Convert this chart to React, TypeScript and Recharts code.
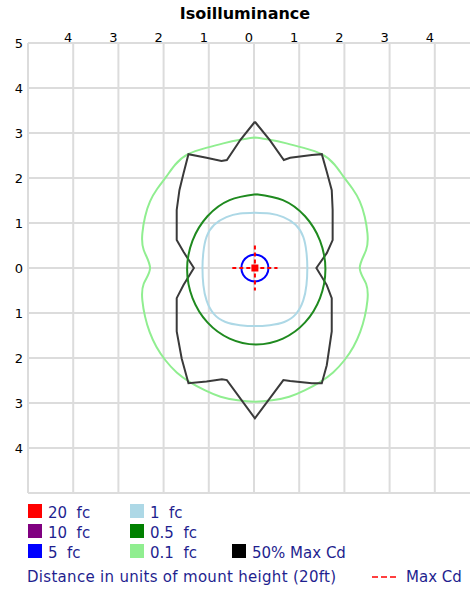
import React from 'react';
import { ComposedChart, Line, XAxis, YAxis, CartesianGrid } from 'recharts';

// axis ticks (units of mount height)
const axisTicks = [-5, -4, -3, -2, -1, 0, 1, 2, 3, 4, 5];

// 0.1 fc contour
const fc01 = [
  { x: 0.02, y: 2.9 }, { x: 0.35, y: 2.85 }, { x: 0.72, y: 2.77 }, { x: 1.1, y: 2.67 },
  { x: 1.5, y: 2.53 }, { x: 1.78, y: 2.3 }, { x: 1.98, y: 2.03 }, { x: 2.18, y: 1.76 },
  { x: 2.34, y: 1.48 }, { x: 2.45, y: 1.14 }, { x: 2.51, y: 0.77 }, { x: 2.48, y: 0.4 },
  { x: 2.34, y: 0 }, { x: 2.48, y: -0.35 }, { x: 2.51, y: -0.72 }, { x: 2.45, y: -1.08 },
  { x: 2.35, y: -1.42 }, { x: 2.2, y: -1.75 }, { x: 2.0, y: -2.05 }, { x: 1.75, y: -2.32 },
  { x: 1.45, y: -2.54 }, { x: 1.12, y: -2.72 }, { x: 0.78, y: -2.86 }, { x: 0.4, y: -2.94 },
  { x: 0.02, y: -2.97 }, { x: -0.36, y: -2.94 }, { x: -0.74, y: -2.86 }, { x: -1.08, y: -2.72 },
  { x: -1.41, y: -2.54 }, { x: -1.71, y: -2.32 }, { x: -1.96, y: -2.05 }, { x: -2.16, y: -1.75 },
  { x: -2.31, y: -1.42 }, { x: -2.41, y: -1.08 }, { x: -2.47, y: -0.72 }, { x: -2.44, y: -0.35 },
  { x: -2.3, y: 0 }, { x: -2.44, y: 0.4 }, { x: -2.47, y: 0.77 }, { x: -2.41, y: 1.14 },
  { x: -2.3, y: 1.48 }, { x: -2.14, y: 1.76 }, { x: -1.94, y: 2.03 }, { x: -1.74, y: 2.3 },
  { x: -1.46, y: 2.53 }, { x: -1.06, y: 2.67 }, { x: -0.68, y: 2.77 }, { x: -0.31, y: 2.85 },
  { x: 0.02, y: 2.9 },
];

// 50% max candela outline
const halfMaxCd = [
  { x: 0.02, y: 3.25 }, { x: 0.35, y: 2.84 }, { x: 0.66, y: 2.4 }, { x: 0.8, y: 2.45 },
  { x: 1.28, y: 2.51 }, { x: 1.5, y: 2.53 }, { x: 1.61, y: 2.14 }, { x: 1.72, y: 1.73 },
  { x: 1.74, y: 1.29 }, { x: 1.74, y: 0.62 }, { x: 1.61, y: 0.33 }, { x: 1.38, y: 0 },
  { x: 1.61, y: -0.38 }, { x: 1.72, y: -0.67 }, { x: 1.72, y: -1.41 }, { x: 1.61, y: -2.16 },
  { x: 1.5, y: -2.56 }, { x: 1.28, y: -2.56 }, { x: 0.8, y: -2.51 }, { x: 0.65, y: -2.49 },
  { x: 0.02, y: -3.34 }, { x: -0.6, y: -2.49 }, { x: -0.71, y: -2.47 }, { x: -1.05, y: -2.52 },
  { x: -1.45, y: -2.56 }, { x: -1.6, y: -2.01 }, { x: -1.71, y: -1.41 }, { x: -1.71, y: -0.67 },
  { x: -1.56, y: -0.38 }, { x: -1.33, y: 0 }, { x: -1.56, y: 0.36 }, { x: -1.71, y: 0.62 },
  { x: -1.71, y: 1.29 }, { x: -1.65, y: 1.73 }, { x: -1.56, y: 2.1 }, { x: -1.45, y: 2.53 },
  { x: -1.05, y: 2.45 }, { x: -0.72, y: 2.38 }, { x: -0.6, y: 2.4 }, { x: -0.3, y: 2.85 },
  { x: 0.02, y: 3.25 },
];

// 0.5 fc contour
const fc05 = [
  { x: 0.05, y: 1.64 }, { x: 0.64, y: 1.51 }, { x: 1.13, y: 1.15 }, { x: 1.46, y: 0.61 },
  { x: 1.58, y: -0.03 }, { x: 1.46, y: -0.67 }, { x: 1.13, y: -1.21 }, { x: 0.64, y: -1.57 },
  { x: 0.05, y: -1.7 }, { x: -0.54, y: -1.57 }, { x: -1.03, y: -1.21 }, { x: -1.36, y: -0.67 },
  { x: -1.48, y: -0.03 }, { x: -1.36, y: 0.61 }, { x: -1.03, y: 1.15 }, { x: -0.54, y: 1.51 },
  { x: 0.05, y: 1.64 },
];

// 1 fc contour
const fc1 = [
  { x: 0.02, y: 1.23 }, { x: 0.35, y: 1.21 }, { x: 0.65, y: 1.13 }, { x: 0.92, y: 0.96 },
  { x: 1.09, y: 0.69 }, { x: 1.16, y: 0.35 }, { x: 1.18, y: 0 }, { x: 1.16, y: -0.38 },
  { x: 1.09, y: -0.72 }, { x: 0.93, y: -1.02 }, { x: 0.67, y: -1.2 }, { x: 0.35, y: -1.27 },
  { x: 0.02, y: -1.29 }, { x: -0.31, y: -1.27 }, { x: -0.63, y: -1.2 }, { x: -0.89, y: -1.02 },
  { x: -1.05, y: -0.72 }, { x: -1.12, y: -0.38 }, { x: -1.14, y: 0 }, { x: -1.12, y: 0.35 },
  { x: -1.05, y: 0.69 }, { x: -0.88, y: 0.96 }, { x: -0.61, y: 1.13 }, { x: -0.31, y: 1.21 },
  { x: 0.02, y: 1.23 },
];

// 5 fc contour
const fc5 = [
  { x: 0.02, y: 0.3 }, { x: 0.17, y: 0.26 }, { x: 0.28, y: 0.15 }, { x: 0.32, y: 0 },
  { x: 0.28, y: -0.15 }, { x: 0.17, y: -0.26 }, { x: 0.02, y: -0.3 }, { x: -0.13, y: -0.26 },
  { x: -0.24, y: -0.15 }, { x: -0.28, y: 0 }, { x: -0.24, y: 0.15 }, { x: -0.13, y: 0.26 },
  { x: 0.02, y: 0.3 },
];

// max candela marker
const maxCdH = [{ x: -0.48, y: 0 }, { x: 0.52, y: 0 }];
const maxCdV = [{ x: 0.02, y: 0.5 }, { x: 0.02, y: -0.5 }];
const fc20 = [{ x: 0.02, y: 0 }];

const legendItems = [
  { label: '20  fc', color: '#ff0000', col: 0, row: 0 },
  { label: '10  fc', color: '#800080', col: 0, row: 1 },
  { label: '5  fc', color: '#0000ff', col: 0, row: 2 },
  { label: '1  fc', color: '#add8e6', col: 1, row: 0 },
  { label: '0.5  fc', color: '#008000', col: 1, row: 1 },
  { label: '0.1  fc', color: '#90ee90', col: 1, row: 2 },
  { label: '50% Max Cd', color: '#000000', col: 2, row: 2 },
];

const FONT = '"DejaVu Sans", Verdana, sans-serif';
const TEXT_BLUE = '#1f1f8f';
const colX = [28, 130, 232];

const SquareDot = (props: any) => {
  const { cx, cy } = props;
  if (cx == null || cy == null) return <g />;
  return <rect x={cx - 3.5} y={cy - 3.5} width={7} height={7} fill="#ff0000" />;
};

export default function App() {
  const absTick = (v: number) => String(Math.abs(v));
  const xTick = (v: number) => (Math.abs(v) === 5 ? '' : String(Math.abs(v)));

  return (
    <div style={{ position: 'absolute', left: 0, top: 0, width: 470, height: 590, overflow: 'hidden', background: '#fff', fontFamily: FONT }}>
      <div style={{ position: 'absolute', left: 0, top: 0 }}>
        <ComposedChart width={490} height={500} margin={{ top: 23, right: 10, bottom: 7, left: 8 }}>
          <CartesianGrid stroke="#dcdcdc" strokeWidth={2} />
          <XAxis
            type="number"
            dataKey="x"
            orientation="top"
            domain={[-5, 5]}
            ticks={axisTicks}
            tickFormatter={xTick}
            axisLine={false}
            tickLine={false}
            tickSize={1}
            tickMargin={0}
            height={20}
            allowDataOverflow
            tick={{ fill: '#000', fontSize: 13, fontFamily: FONT, dx: -5 }}
          />
          <YAxis
            type="number"
            dataKey="y"
            domain={[-5, 5]}
            ticks={axisTicks}
            tickFormatter={absTick}
            axisLine={false}
            tickLine={false}
            tickSize={3}
            tickMargin={2}
            width={20}
            allowDataOverflow
            tick={{ fill: '#000', fontSize: 13, fontFamily: FONT }}
          />
          <Line data={fc01} dataKey="y" type="natural" stroke="#90ee90" strokeWidth={2} dot={false} isAnimationActive={false} />
          <Line data={halfMaxCd} dataKey="y" type="linear" stroke="#3a3a3a" strokeWidth={2} dot={false} isAnimationActive={false} />
          <Line data={fc05} dataKey="y" type="natural" stroke="#1f8a1f" strokeWidth={2} dot={false} isAnimationActive={false} />
          <Line data={fc1} dataKey="y" type="natural" stroke="#add8e6" strokeWidth={2} dot={false} isAnimationActive={false} />
          <Line data={fc5} dataKey="y" type="natural" stroke="#0000ff" strokeWidth={2} dot={false} isAnimationActive={false} />
          <Line data={maxCdH} dataKey="y" type="linear" stroke="#ff0000" strokeWidth={2} strokeDasharray="4 3" dot={false} isAnimationActive={false} />
          <Line data={maxCdV} dataKey="y" type="linear" stroke="#ff0000" strokeWidth={2} strokeDasharray="4 3" dot={false} isAnimationActive={false} />
          <Line data={fc20} dataKey="y" stroke="none" dot={<SquareDot />} isAnimationActive={false} />
        </ComposedChart>
      </div>

      <svg width={470} height={590} style={{ position: 'absolute', left: 0, top: 0, pointerEvents: 'none' }}>
        <text x={245} y={19} textAnchor="middle" fontFamily={FONT} fontSize={16} fontWeight="bold" fill="#000">
          Isoilluminance
        </text>
        {legendItems.map((item) => (
          <g key={item.label}>
            <rect x={colX[item.col]} y={504 + item.row * 20} width={14} height={14} fill={item.color} />
            <text
              x={colX[item.col] + 20}
              y={518 + item.row * 20}
              fontFamily={FONT}
              fontSize={15}
              fill={TEXT_BLUE}
              style={{ whiteSpace: 'pre' }}
            >
              {item.label}
            </text>
          </g>
        ))}
        <text x={27} y={582} fontFamily={FONT} fontSize={15} fill={TEXT_BLUE} letterSpacing={0.3}>
          Distance in units of mount height (20ft)
        </text>
        <line x1={372} x2={397} y1={577} y2={577} stroke="#ff0000" strokeWidth={1.5} strokeDasharray="6 3" />
        <text x={406} y={582} fontFamily={FONT} fontSize={15} fill={TEXT_BLUE}>
          Max Cd
        </text>
      </svg>
    </div>
  );
}
